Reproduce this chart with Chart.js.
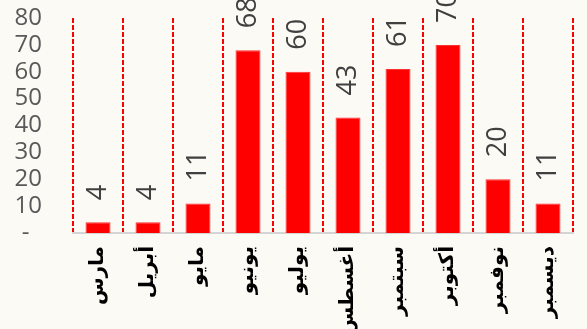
<!DOCTYPE html>
<html>
<head>
<meta charset="utf-8">
<script src="https://cdn.jsdelivr.net/npm/chart.js@4"></script>
<style>
  html, body { margin: 0; padding: 0; background: #fcfaf5; }
  #wrap { width: 587px; height: 329px; }
</style>
</head>
<body>
<div id="wrap"><canvas id="monthChart" width="587" height="329"></canvas></div>
<script>
const months = ['مارس', 'أبريل', 'مايو', 'يونيو', 'يوليو', 'أغسطس', 'سبتمبر', 'أكتوبر', 'نوفمبر', 'ديسمبر'];
const counts = [4, 4, 11, 68, 60, 43, 61, 70, 20, 11];
const yTicks = [0, 10, 20, 30, 40, 50, 60, 70, 80];

// draws the rotated value above each bar
const valueLabels = {
  id: 'valueLabels',
  afterDatasetsDraw(chart) {
    const c = chart.ctx;
    const meta = chart.getDatasetMeta(0);
    c.save();
    c.font = '27px "Open Sans"';
    c.fillStyle = '#404040';
    c.textAlign = 'left';
    c.textBaseline = 'middle';
    meta.data.forEach((bar, i) => {
      c.save();
      c.translate(bar.x, bar.y - 22);
      c.rotate(-Math.PI / 2);
      c.fillText(String(counts[i]), 0, 0);
      c.restore();
    });
    c.restore();
  }
};

const ctx = document.getElementById('monthChart').getContext('2d');

const chart = new Chart(ctx, {
  type: 'bar',
  data: {
    labels: months,
    datasets: [{
      data: counts,
      backgroundColor: '#ff0000',
      borderColor: '#ff3030',
      borderWidth: 1,
      barPercentage: 0.5,
      categoryPercentage: 1
    }]
  },
  options: {
    responsive: false,
    animation: false,
    layout: { padding: { left: 0, top: 18, right: 14, bottom: 0 } },
    plugins: {
      legend: { display: false },
      tooltip: { enabled: false }
    },
    scales: {
      x: {
        afterFit: s => {
          s.height = 96;
          s.paddingLeft = 0; s.paddingRight = 0;
        },
        grid: {
          color: '#ff0000',
          lineWidth: 2,
          drawTicks: false,
          offset: true
        },
        border: { color: '#d4d4d4', width: 2, dash: [5, 2] },
        ticks: {
          color: '#000000',
          font: { family: 'DejaVu Sans', size: 20, weight: 'bold' },
          minRotation: 90,
          maxRotation: 90,
          autoSkip: false,
          padding: 13
        }
      },
      y: {
        min: 0,
        max: 80,
        afterFit: s => {
          s.width = 73;
          s.paddingTop = 0; s.paddingBottom = 0;
        },
        afterBuildTicks: s => { s.ticks = yTicks.map(v => ({ value: v })); },
        grid: { display: false },
        border: { display: false },
        ticks: {
          color: '#595959',
          font: { family: 'Open Sans', size: 24 },
          padding: 23,
          autoSkip: false,
          callback: v => v === 0 ? '-  ' : v
        }
      }
    }
  },
  plugins: [valueLabels]
});
</script>
</body>
</html>
